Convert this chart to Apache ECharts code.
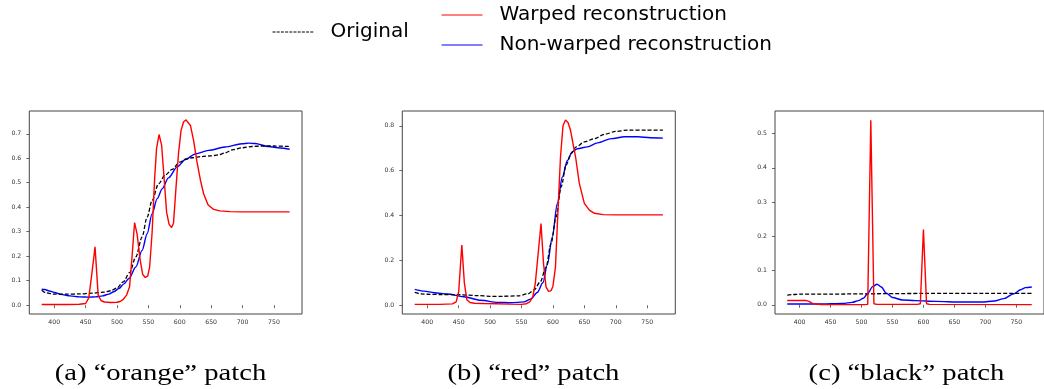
<!DOCTYPE html>
<html>
<head>
<meta charset="utf-8">
<script src="https://cdn.jsdelivr.net/npm/echarts@6/dist/echarts.min.js"></script>
<style>
  html, body { margin: 0; padding: 0; background: #fff; }
  #chart { width: 1044px; height: 389px; }
</style>
</head>
<body>
<div id="chart"></div>
<script>
// Reflectance spectra (wavelength in nm, reflectance) for three colour patches.
const xTicks = [400, 450, 500, 550, 600, 650, 700, 750];
const yTicksA = [0.0, 0.1, 0.2, 0.3, 0.4, 0.5, 0.6, 0.7];
const yTicksB = [0.0, 0.2, 0.4, 0.6, 0.8];
const yTicksC = [0.0, 0.1, 0.2, 0.3, 0.4, 0.5];

const seriesNames = ['Original', 'Warped reconstruction', 'Non-warped reconstruction'];
const captions = ['(a) \u201corange\u201d patch', '(b) \u201cred\u201d patch', '(c) \u201cblack\u201d patch'];

// (a) orange patch
const originalA = [[380,0.061],[387,0.050],[400,0.045],[420,0.045],[440,0.046],[460,0.049],[480,0.053],[490,0.059],[500,0.070],[510,0.095],[520,0.133],[530,0.197],[540,0.279],[548,0.360],[556,0.428],[566,0.495],[577,0.532],[588,0.555],[600,0.584],[610,0.597],[620,0.602],[635,0.607],[650,0.610],[662,0.614],[672,0.622],[685,0.635],[700,0.643],[715,0.648],[730,0.650],[750,0.650],[775,0.648]];
const warpedA = [[380,0.003],[400,0.003],[420,0.003],[440,0.004],[450,0.007],[455,0.030],[460,0.130],[465,0.238],[470,0.040],[475,0.018],[480,0.013],[490,0.011],[500,0.012],[505,0.015],[510,0.024],[515,0.040],[520,0.075],[524,0.200],[528,0.337],[532,0.290],[537,0.183],[541,0.125],[545,0.113],[549,0.120],[552,0.156],[556,0.300],[560,0.520],[563,0.640],[567,0.697],[571,0.655],[575,0.520],[579,0.380],[583,0.330],[587,0.317],[590,0.335],[594,0.480],[598,0.620],[602,0.713],[606,0.748],[610,0.757],[613,0.758],[617,0.734],[622,0.673],[627,0.591],[633,0.510],[638,0.455],[645,0.410],[654,0.391],[664,0.385],[680,0.382],[700,0.381],[775,0.381]];
const nonWarpedA = [[380,0.065],[385,0.064],[392,0.058],[400,0.052],[413,0.043],[425,0.038],[440,0.034],[455,0.033],[466,0.034],[477,0.038],[487,0.045],[495,0.055],[503,0.068],[511,0.087],[519,0.109],[530,0.156],[540,0.224],[548,0.292],[556,0.374],[564,0.435],[572,0.475],[582,0.520],[596,0.565],[609,0.595],[625,0.618],[646,0.632],[672,0.646],[699,0.659],[710,0.662],[720,0.660],[741,0.648],[760,0.642],[775,0.637]];

// (b) red patch
const originalB = [[380,0.057],[390,0.051],[400,0.049],[420,0.048],[450,0.047],[480,0.043],[500,0.040],[520,0.040],[545,0.042],[560,0.051],[570,0.068],[580,0.105],[589,0.170],[597,0.275],[605,0.394],[613,0.528],[621,0.625],[629,0.677],[637,0.706],[650,0.728],[666,0.743],[682,0.762],[700,0.775],[719,0.781],[750,0.781],[775,0.781]];
const warpedB = [[380,0.004],[400,0.004],[420,0.004],[440,0.006],[446,0.015],[450,0.060],[455,0.268],[459,0.100],[463,0.025],[468,0.012],[475,0.009],[490,0.008],[510,0.007],[530,0.005],[550,0.004],[558,0.007],[563,0.015],[568,0.037],[572,0.100],[577,0.245],[581,0.364],[585,0.186],[589,0.082],[593,0.062],[597,0.065],[600,0.085],[604,0.170],[608,0.420],[612,0.660],[616,0.800],[620,0.826],[624,0.815],[628,0.780],[632,0.720],[636,0.662],[642,0.543],[650,0.454],[658,0.424],[666,0.410],[680,0.404],[700,0.403],[775,0.403]];
const nonWarpedB = [[380,0.071],[395,0.063],[411,0.056],[432,0.050],[458,0.038],[485,0.022],[512,0.013],[533,0.011],[554,0.015],[565,0.028],[575,0.057],[584,0.100],[591,0.180],[599,0.305],[607,0.454],[615,0.572],[623,0.645],[631,0.685],[639,0.698],[655,0.706],[671,0.724],[693,0.743],[714,0.751],[735,0.751],[755,0.747],[775,0.745]];

// (c) black patch
const originalC = [[380,0.028],[390,0.030],[400,0.031],[450,0.031],[500,0.032],[600,0.033],[700,0.033],[775,0.033]];
const warpedC = [[380,0.0126],[410,0.0126],[415,0.010],[420,0.005],[425,0.002],[435,0.0007],[505,0.0005],[510,0.001],[515,0.539],[520,0.003],[525,0.001],[590,0.001],[595,0.003],[600,0.220],[605,0.003],[610,0.001],[775,0.0005]];
const nonWarpedC = [[380,0.002],[430,0.002],[470,0.004],[485,0.007],[495,0.012],[503,0.019],[510,0.033],[518,0.053],[525,0.060],[532,0.052],[540,0.034],[550,0.021],[566,0.014],[587,0.012],[620,0.010],[660,0.008],[695,0.008],[714,0.011],[730,0.018],[746,0.032],[757,0.044],[765,0.050],[775,0.052]];

const panels = [
  { left: 29.3, width: 272.7, yMin: -0.036, yMax: 0.793, yTicks: yTicksA, orig: originalA, warped: warpedA, plain: nonWarpedA, cx: 160.5 },
  { left: 402.3, width: 273, yMin: -0.039, yMax: 0.866, yTicks: yTicksB, orig: originalB, warped: warpedB, plain: nonWarpedB, cx: 533.5 },
  { left: 775, width: 272.5, yMin: -0.027, yMax: 0.566, yTicks: yTicksC, orig: originalC, warped: warpedC, plain: nonWarpedC, cx: 906.5 }
];

const tickFont = { fontFamily: 'DejaVu Sans', fontSize: 6.2, color: '#333' };

const grids = [], xAxes = [], yAxes = [], series = [], graphics = [];
panels.forEach((p, i) => {
  grids.push({ left: p.left, width: p.width, top: 111, height: 203, show: true, borderColor: '#444', borderWidth: 1, containLabel: false });
  xAxes.push({
    type: 'value', gridIndex: i, min: 360.25, max: 794.75,
    splitLine: { show: false }, axisLine: { show: false },
    axisTick: { show: true, length: 3, customValues: xTicks, lineStyle: { color: '#444', width: 0.8 } },
    axisLabel: Object.assign({ customValues: xTicks, margin: 5, formatter: v => String(v) }, tickFont)
  });
  yAxes.push({
    type: 'value', gridIndex: i, min: p.yMin, max: p.yMax,
    splitLine: { show: false }, axisLine: { show: false },
    axisTick: { show: true, length: 3, customValues: p.yTicks, lineStyle: { color: '#444', width: 0.8 } },
    axisLabel: Object.assign({ customValues: p.yTicks, margin: 8, formatter: v => v.toFixed(1) }, tickFont)
  });
  const base = { type: 'line', xAxisIndex: i, yAxisIndex: i, symbol: 'none', silent: true, animation: false };
  series.push(Object.assign({}, base, { name: seriesNames[2], data: p.plain, smooth: 0.3, smoothMonotone: 'x', lineStyle: { color: '#0000ff', width: 1.4 }, itemStyle: { color: '#0000ff' } }));
  series.push(Object.assign({}, base, { name: seriesNames[0], data: p.orig, smooth: 0.3, smoothMonotone: 'x', lineStyle: { color: '#000', width: 1.3, type: [4, 2] }, itemStyle: { color: '#000' } }));
  series.push(Object.assign({}, base, { name: seriesNames[1], data: p.warped, lineStyle: { color: '#ff0000', width: 1.4 }, itemStyle: { color: '#ff0000' } }));
  // sub-figure caption, widened to the proportions of a Computer Modern face
  graphics.push({
    type: 'text', x: p.cx, y: 373.5, scaleX: 1.22, scaleY: 1,
    style: { text: captions[i], fill: '#000', font: '23.5px "Liberation Serif", serif', textAlign: 'center', textVerticalAlign: 'middle' }
  });
});

const legendBase = {
  orient: 'horizontal', padding: 0, itemWidth: 41, itemHeight: 12, selectedMode: false,
  itemStyle: { color: 'transparent', borderColor: 'transparent', borderWidth: 0 },
  lineStyle: { width: 1 },
  textStyle: { fontFamily: 'DejaVu Sans', fontSize: 20, color: '#000', padding: [0, 0, 0, 12], lineHeight: 24 }
};

const option = {
  animation: false,
  backgroundColor: '#fff',
  grid: grids,
  xAxis: xAxes,
  yAxis: yAxes,
  legend: [
    Object.assign({}, legendBase, { data: [seriesNames[0]], left: 272, top: 20, lineStyle: { width: 1, type: [3, 1.2] } }),
    Object.assign({}, legendBase, { data: [seriesNames[1]], left: 441, top: 3 }),
    Object.assign({}, legendBase, { data: [seriesNames[2]], left: 441, top: 33 })
  ],
  series: series,
  graphic: graphics
};

const chart = echarts.init(document.getElementById('chart'), null, { renderer: 'canvas' });
chart.setOption(option);
</script>
</body>
</html>
